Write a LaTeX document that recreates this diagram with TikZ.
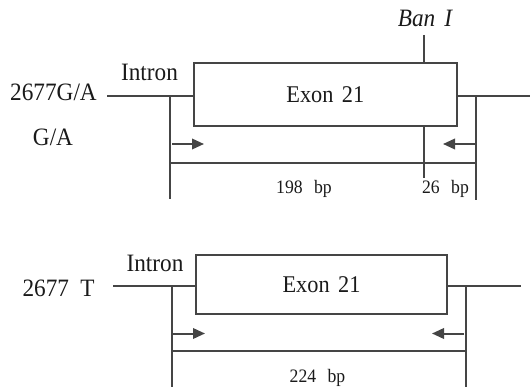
\documentclass[tikz,border=0pt]{standalone}
\usepackage{fontspec}
\setmainfont{Liberation Serif}[FakeStretch=0.93]
\usetikzlibrary{arrows.meta}
\definecolor{ln}{HTML}{454545}
\definecolor{tx}{HTML}{1A1A1A}
\begin{document}
\begin{tikzpicture}[x=1pt,y=-1pt,
  line width=2pt, draw=ln,
  exonbox/.style={draw=ln, line width=2pt, inner sep=0pt, text=tx,
    font=\fontsize{24}{28}\selectfont},
  lbl/.style={inner sep=0pt, anchor=base, text=tx, font=\fontsize{25}{29}\selectfont},
  bplbl/.style={inner sep=0pt, anchor=base, text=tx, font=\fontsize{19}{23}\selectfont},
  wire/.style={draw=ln, line width=2pt},
  primer/.style={draw=ln, line width=2pt, -{Triangle[length=12pt,width=10.5pt]}}
]
\useasboundingbox (0,0) rectangle (530,387);

% ---------- top panel ----------
\node[exonbox, minimum width=262.7pt, minimum height=62.4pt] (ex1) at (325.3,94.5) {Exon\hspace{0.35em}21};
\coordinate (l1) at (107,96);
\coordinate (r1) at (530,96);
\coordinate (ban1) at (424,35);
\coordinate (ban2) at (424,178);
\coordinate (va1) at (170,96);
\coordinate (vb1) at (170,199);
\coordinate (wa1) at (475.7,96);
\coordinate (wb1) at (475.7,200);
\coordinate (pa1) at (172,144);
\coordinate (pb1) at (204,144);
\coordinate (qa1) at (474.5,144);
\coordinate (qb1) at (443,144);
\coordinate (ha1) at (170,162.7);
\coordinate (hb1) at (475.7,162.7);

\draw[wire] (l1) -- (ex1.west |- l1);
\draw[wire] (ex1.east |- r1) -- (r1);
\draw[wire] (ban1) -- (ban1 |- ex1.north);
\draw[wire] (ban1 |- ex1.south) -- (ban2);
\draw[wire] (va1) -- (vb1);
\draw[wire] (wa1) -- (wb1);
\draw[wire] (ha1) -- (hb1);
\draw[primer] (pa1) -- (pb1);
\draw[primer] (qa1) -- (qb1);

\node[lbl] (g1) at (53.5,100.5) {2677G/A};
\node[lbl] (g2) at (53,145.5) {G/A};
\node[lbl] (in1) at (149.5,81) {Intron};
\node[lbl] (bn) at (425,26.5) {\itshape Ban\hspace{0.36em}I};
\node[bplbl] (bp198) at (304,194) {198\hspace{0.6em}bp};
\node[bplbl] (bp26) at (445.5,194) {26\hspace{0.6em}bp};

% ---------- bottom panel ----------
\node[exonbox, minimum width=251.6pt, minimum height=59pt] (ex2) at (321.5,284.5) {Exon\hspace{0.35em}21};
\coordinate (l2) at (113,285.7);
\coordinate (r2) at (521,285.7);
\coordinate (va2) at (172,285.7);
\coordinate (vb2) at (172,387);
\coordinate (wa2) at (466,285.7);
\coordinate (wb2) at (466,387);
\coordinate (pa2) at (173,333.5);
\coordinate (pb2) at (205,333.5);
\coordinate (qa2) at (464,333.5);
\coordinate (qb2) at (432,333.5);
\coordinate (ha2) at (172,351);
\coordinate (hb2) at (466,351);

\draw[wire] (l2) -- (ex2.west |- l2);
\draw[wire] (ex2.east |- r2) -- (r2);
\draw[wire] (va2) -- (vb2);
\draw[wire] (wa2) -- (wb2);
\draw[wire] (ha2) -- (hb2);
\draw[primer] (pa2) -- (pb2);
\draw[primer] (qa2) -- (qb2);

\node[lbl] (t1) at (58.5,296.5) {2677\hspace{0.45em}T};
\node[lbl] (in2) at (155,271.5) {Intron};
\node[bplbl] (bp224) at (317.5,382) {224\hspace{0.6em}bp};
\end{tikzpicture}
\end{document}
